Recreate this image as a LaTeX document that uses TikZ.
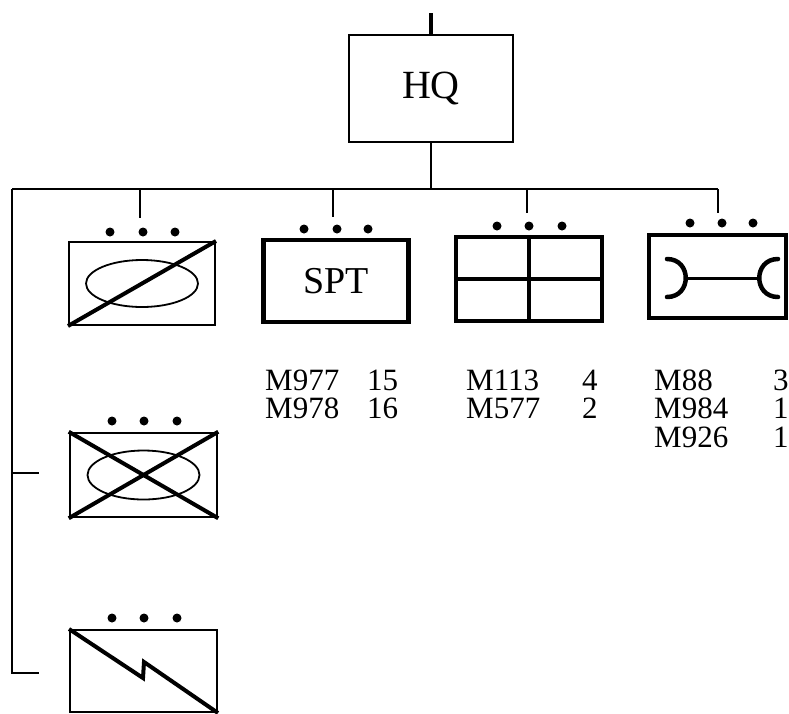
\documentclass[tikz,border=0pt]{standalone}
\usepackage{fontspec}
\setmainfont{Liberation Serif}
\begin{document}
\begin{tikzpicture}[x=1pt,y=-1pt,
  thinbox/.style={draw,line width=2pt,inner sep=0pt},
  thickbox/.style={draw,line width=4.5pt,inner sep=0pt},
  conn/.style={line width=2.2pt},
  tbl/.style={anchor=base west,inner sep=0pt,font=\fontsize{31}{31}\selectfont},
  dot/.style={circle,fill,inner sep=0pt,minimum size=9pt}]
\useasboundingbox (0,0) rectangle (789,713);
% HQ
\node[thinbox,line width=2.5pt,minimum width=164pt,minimum height=107pt,font=\fontsize{40}{40}\selectfont] (hq) at (431,88.5) {HQ};
\coordinate (top) at (431,13);
\draw[line width=4pt] (top) -- (hq.north);
% bus
\coordinate (busL) at (12,189);
\coordinate (busR) at (718,189);
\draw[conn] (hq.south) -- (hq.south |- busL);
\draw[conn] (busL) -- (busR);
% boxes
\node[thinbox,minimum width=146pt,minimum height=83pt] (b1) at (142,283.5) {};
\node[thickbox,minimum width=145pt,minimum height=82pt,font=\fontsize{38}{38}\selectfont] (spt) at (336,281) {SPT};
\node[thickbox,minimum width=146pt,minimum height=84pt] (grid) at (529,279) {};
\node[thickbox,minimum width=137pt,minimum height=83pt] (wr) at (717.5,276.5) {};
\node[thinbox,line width=2.5pt,minimum width=147pt,minimum height=84pt] (b2) at (143.5,475) {};
\node[thinbox,minimum width=147pt,minimum height=82pt] (b3) at (143.5,671) {};
% drops
\coordinate (d1) at (140,218);
\coordinate (d2) at (333,217);
\coordinate (d3) at (527,213);
\coordinate (d4) at (718,213);
\draw[conn] (d1 |- busL) -- (d1);
\draw[conn] (d2 |- busL) -- (d2);
\draw[conn] (d3 |- busL) -- (d3);
\draw[conn] (d4 |- busL) -- (d4);
% left trunk
\coordinate (t2) at (39,473);
\coordinate (t3) at (39,673);
\draw[conn] (busL) -- (busL |- t3) -- (t3);
\draw[conn] (busL |- t2) -- (t2);
% dots
\foreach \x in {110,143,175} \node[dot] at (\x,232) {};
\foreach \x in {304,337,368} \node[dot] at (\x,229) {};
\foreach \x in {497,529,562} \node[dot] at (\x,226) {};
\foreach \x in {690,722,753} \node[dot] at (\x,223) {};
\foreach \x in {112,144,177} \node[dot] at (\x,421) {};
\foreach \x in {112,144,177} \node[dot] at (\x,618) {};
% box1 symbol
\draw[line width=1.8pt] (b1.center) ellipse [x radius=56pt,y radius=23.5pt];
\draw[line width=4pt] (b1.south west) -- (b1.north east);
% box2 symbol
\draw[line width=1.8pt] (b2.center) ellipse [x radius=56pt,y radius=24.5pt];
\draw[line width=4pt] (b2.south west) -- (b2.north east);
\draw[line width=4pt] (b2.north west) -- (b2.south east);
% grid
\draw[line width=4.5pt] (grid.north) -- (grid.south);
\draw[line width=4.5pt] (grid.west) -- (grid.east);
% wrench
\draw[line width=4.5pt,line cap=round] (667,259) .. controls (692,259) and (692,297) .. (667,297);
\draw[line width=3pt] (688,278) -- (759,278);
\draw[line width=4.5pt,line cap=round] (778,259) .. controls (753,259) and (753,297) .. (778,297);
% lightning
\draw[line width=4pt] (b3.north west) -- (143,678) -- (144,662) -- (b3.south east);
% tables
\node[tbl] (t11) at (265,390) {M977};
\node[tbl] (t12) at (367,390) {15};
\node[tbl] (t21) at (265,418) {M978};
\node[tbl] (t22) at (367,418) {16};
\node[tbl] (u11) at (466,390) {M113};
\node[tbl] (u12) at (582,390) {4};
\node[tbl] (u21) at (466,418) {M577};
\node[tbl] (u22) at (582,418) {2};
\node[tbl] (v11) at (654,390) {M88};
\node[tbl] (v12) at (773,390) {3};
\node[tbl] (v21) at (654,418) {M984};
\node[tbl] (v22) at (773,418) {1};
\node[tbl] (v31) at (654,447) {M926};
\node[tbl] (v32) at (773,447) {1};
\end{tikzpicture}
\end{document}
